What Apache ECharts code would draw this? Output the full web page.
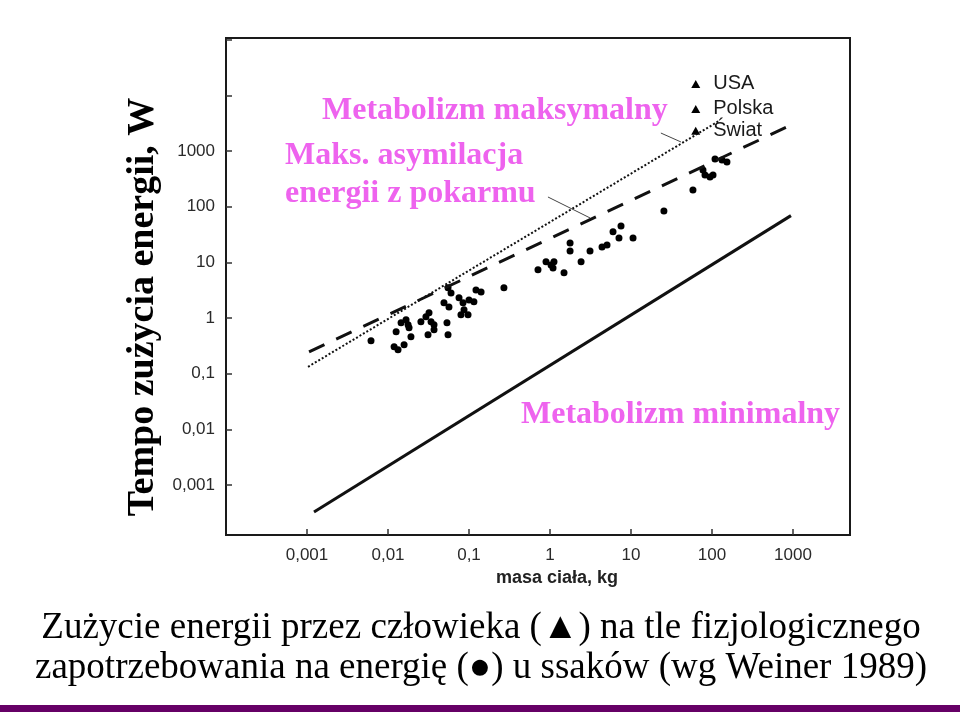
<!DOCTYPE html>
<html>
<head>
<meta charset="utf-8">
<script src="https://cdn.jsdelivr.net/npm/echarts@6/dist/echarts.min.js"></script>
<style>
html,body{margin:0;padding:0;background:#fff;}
#chart{width:960px;height:717px;}
</style>
</head>
<body>
<div id="chart"></div>
<script>
// ---- data (body mass in kg, power in W) ----
const tickExponents = [-3, -2, -1, 0, 1, 2, 3];
const tickLabels = ['0,001', '0,01', '0,1', '1', '10', '100', '1000'];

const mammalMass = [0.00617, 0.0119, 0.0133, 0.0158, 0.0192, 0.0126, 0.0145, 0.0167, 0.0177, 0.0182,
  0.0255, 0.0294, 0.0321, 0.0340, 0.0370, 0.0312, 0.0370, 0.0535, 0.0551, 0.0491,
  0.0566, 0.0551, 0.060, 0.0753, 0.0844, 0.0868, 0.0796, 0.0973, 0.100, 0.115,
  0.122, 0.141, 0.270, 0.711, 0.893, 1.03, 1.12, 1.09, 1.49, 1.77,
  1.77, 2.42, 3.12, 4.39, 5.06, 6.0, 7.53, 7.11, 10.6, 25.5,
  58.2, 77.4, 82, 94.5, 103, 109, 133, 153];
const mammalPower = [0.388, 0.303, 0.267, 0.329, 0.458, 0.562, 0.817, 0.925, 0.752, 0.664,
  0.851, 1.05, 1.24, 0.851, 0.752, 0.498, 0.611, 0.817, 0.498, 1.87,
  1.58, 3.47, 2.82, 2.30, 1.87, 1.40, 1.14, 1.14, 2.11, 1.95,
  3.19, 2.94, 3.47, 7.31, 10.2, 8.98, 10.2, 7.93, 6.46, 22.3,
  16.0, 10.2, 16.0, 18.9, 20.5, 35.2, 45.0, 27.4, 27.4, 83.8,
  200, 456, 371, 341, 371, 718, 689, 635];

const humanNames = ['USA', 'Polska', 'Świat'];
const humanMass = [63, 63, 63];
const humanPower = [16000, 5700, 2300];

const minMetMass = [0.00122, 944];
const minMetPower = [0.000327, 68.9];
const maxMetMass = [0.00103, 122];
const maxMetPower = [0.1325, 3460];
const assimMass = [0.00106, 893];
const assimPower = [0.246, 2810];
const leader1Mass = [23.4, 41.4];
const leader1Power = [2100, 1452];
const leader2Mass = [0.944, 3.12];
const leader2Power = [149, 62.7];

const zip = (a, b) => a.map((v, i) => [v, b[i]]);

function tickFmt(v) {
  const e = Math.log10(v);
  const r = Math.round(e);
  if (Math.abs(e - r) > 1e-6) return '';
  const i = tickExponents.indexOf(r);
  return i >= 0 ? tickLabels[i] : '';
}

const chart = echarts.init(document.getElementById('chart'), null, {renderer: 'canvas'});
const AX_FONT = 'Liberation Sans, Arial, sans-serif';
const PINK = '#EE63EE';
const SERIF = '"Liberation Serif", "Times New Roman", serif';

const option = {
  backgroundColor: '#fff',
  animation: false,
  grid: {left: 226, top: 38, width: 624, height: 497, show: true,
         borderColor: '#1a1a1a', borderWidth: 2, backgroundColor: 'transparent'},
  xAxis: {
    type: 'log', logBase: 10, min: 1e-4, max: Math.pow(10, 3.704),
    axisLine: {show: false},
    axisTick: {show: true, inside: true, length: 6, lineStyle: {color: '#333', width: 1.5}},
    splitLine: {show: false},
    axisLabel: {formatter: tickFmt, margin: 12, color: '#2a2a2a', fontSize: 17, fontFamily: AX_FONT,
                showMinLabel: false, showMaxLabel: false}
  },
  yAxis: {
    type: 'log', logBase: 10, min: Math.pow(10, -3.9), max: Math.pow(10, 5.03),
    axisLine: {show: false},
    axisTick: {show: true, inside: true, length: 6, lineStyle: {color: '#333', width: 1.5}},
    splitLine: {show: false},
    axisLabel: {formatter: tickFmt, margin: 11, color: '#2a2a2a', fontSize: 17, fontFamily: AX_FONT,
                showMinLabel: false, showMaxLabel: false}
  },
  series: [
    {type: 'line', data: zip(minMetMass, minMetPower), symbol: 'none',
     lineStyle: {color: '#111', width: 3}},
    {type: 'line', data: zip(maxMetMass, maxMetPower), symbol: 'none',
     lineStyle: {color: '#111', width: 2, type: [2, 2]}},
    {type: 'line', data: zip(assimMass, assimPower), symbol: 'none',
     lineStyle: {color: '#111', width: 3, type: [17, 13]}},
    {type: 'line', data: zip(leader1Mass, leader1Power), symbol: 'none',
     lineStyle: {color: '#444', width: 1}},
    {type: 'line', data: zip(leader2Mass, leader2Power), symbol: 'none',
     lineStyle: {color: '#444', width: 1}},
    {type: 'scatter', data: zip(mammalMass, mammalPower), symbol: 'circle', symbolSize: 7,
     itemStyle: {color: '#000', opacity: 1}},
    {type: 'scatter', data: humanNames.map((n, i) => ({name: n, value: [humanMass[i], humanPower[i]]})),
     symbol: 'triangle', symbolSize: [9, 8], itemStyle: {color: '#000', opacity: 1},
     label: {show: true, position: 'right', distance: 13, formatter: '{b}', color: '#1a1a1a',
             fontSize: 20, fontFamily: AX_FONT}}
  ],
  graphic: [
    {type: 'text', x: 322, y: 111, style: {text: 'Metabolizm maksymalny', fill: PINK,
      font: 'bold 32px ' + SERIF, textAlign: 'left', textVerticalAlign: 'middle'}},
    {type: 'text', x: 285, y: 156, style: {text: 'Maks. asymilacja', fill: PINK,
      font: 'bold 32px ' + SERIF, textAlign: 'left', textVerticalAlign: 'middle'}},
    {type: 'text', x: 285, y: 194, style: {text: 'energii z pokarmu', fill: PINK,
      font: 'bold 32px ' + SERIF, textAlign: 'left', textVerticalAlign: 'middle'}},
    {type: 'text', x: 521, y: 415, style: {text: 'Metabolizm minimalny', fill: PINK,
      font: 'bold 32px ' + SERIF, textAlign: 'left', textVerticalAlign: 'middle'}},
    {type: 'text', x: 557, y: 578, style: {text: 'masa ciała, kg', fill: '#222',
      font: 'bold 18px "Liberation Sans", Arial, sans-serif', textAlign: 'center', textVerticalAlign: 'middle'}},
    {type: 'text', x: 143, y: 307, rotation: Math.PI / 2, style: {text: 'Tempo zużycia energii, W', fill: '#000',
      font: 'bold 38px ' + SERIF, textAlign: 'center', textVerticalAlign: 'middle'}},
    {type: 'text', x: 481, y: 628, style: {text: 'Zużycie energii przez człowieka (▲) na tle fizjologicznego', fill: '#000',
      font: '37px ' + SERIF, textAlign: 'center', textVerticalAlign: 'middle'}},
    {type: 'text', x: 481, y: 668, style: {text: 'zapotrzebowania na energię (●) u ssaków (wg Weiner 1989)', fill: '#000',
      font: '37px ' + SERIF, textAlign: 'center', textVerticalAlign: 'middle'}},
    {type: 'rect', shape: {x: 0, y: 705, width: 960, height: 7}, style: {fill: '#660066'}}
  ]
};
chart.setOption(option);
</script>
</body>
</html>
